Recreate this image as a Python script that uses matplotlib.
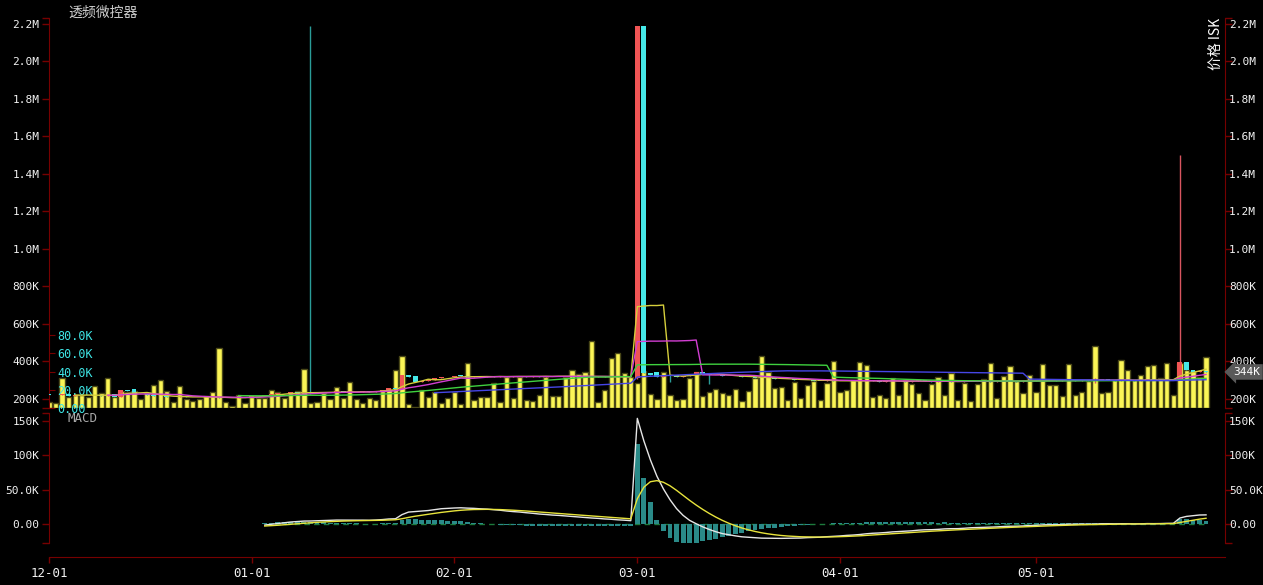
import numpy as np
import pandas as pd
import matplotlib
matplotlib.use("Agg")
import matplotlib.pyplot as plt
from matplotlib.ticker import FuncFormatter, FixedLocator

# ---------------- data (prices / volumes in thousands ISK) ----------------
start_date = "2024-12-01"
title_text = "透频微控器"
axis_label = "价格 ISK"

closes = [
    222, 220, 224, 218, 221, 219, 223, 220, 217, 222,
    212, 248, 244, 233, 226, 222, 218, 214, 212, 210,
    214, 211, 209, 212, 210, 208, 206, 207, 205, 208, 210,
    214, 218, 222, 226, 230, 232, 235, 233, 236, 231,
    235, 238, 236, 240, 237, 239, 236, 240, 238,
    245, 250, 256, 252,
    326, 315, 290, 295, 300,
    312, 318, 315, 320, 322, 316, 320, 318, 322, 319,
    321, 317, 320, 323, 319, 321, 318, 322, 320, 324,
    321, 319, 323, 320, 318, 321, 317, 320, 316, 318, 315,
    2190, 338, 330, 317, 328, 322, 318, 325, 332, 343, 335, 330, 326, 322, 325,
    320, 316, 318, 314, 310, 312, 308, 305, 306, 302, 300, 303, 298, 296, 300, 297,
    295, 298, 294, 296, 300, 297, 293, 295, 298, 294, 292, 296, 299, 295, 291,
    294, 297, 293, 290, 295, 298, 294, 296, 292, 295, 298, 296, 293, 297, 300,
    298, 302, 299, 296, 300, 303, 298, 301, 297, 300, 304, 301, 298, 302, 300,
    297, 301, 304, 300, 302, 305, 303,
    399, 354, 345, 350, 344,
]

opens = [
    224, 222, 220, 224, 218, 221, 219, 223, 220, 217,
    226, 210, 248, 253, 228, 226, 222, 218, 214, 212,
    210, 214, 211, 209, 212, 210, 208, 206, 207, 205, 208,
    210, 214, 218, 222, 226, 230, 232, 235, 233, 236,
    231, 235, 238, 236, 240, 237, 239, 236, 240,
    238, 245, 250, 256,
    252, 326, 322, 290, 295,
    300, 312, 318, 315, 330, 322, 316, 320, 318, 322,
    319, 321, 317, 320, 323, 319, 321, 318, 322, 320,
    324, 321, 319, 323, 320, 318, 321, 317, 320, 316, 318,
    312, 2190, 338, 344, 317, 328, 330, 318, 325, 332, 343, 340, 330, 326, 322,
    325, 320, 316, 318, 314, 310, 312, 308, 305, 306, 302, 300, 303, 298, 296, 300,
    297, 295, 298, 294, 296, 300, 297, 293, 295, 298, 294, 292, 296, 299, 295,
    291, 294, 297, 293, 290, 295, 298, 294, 296, 292, 295, 298, 296, 293, 297,
    300, 298, 302, 299, 296, 300, 303, 298, 301, 297, 300, 304, 301, 298, 302,
    300, 297, 301, 304, 300, 302, 305,
    305, 399, 354, 345, 350,
]

# notable wicks: (day index, high, low)
wicks = [
    (40, 2190, 229), (56, 324, 288), (90, 2190, 305), (95, 330, 290),
    (101, 340, 280), (160, 312, 285), (173, 1500, 300),
]

volumes_k = [
    7, 5.5, 33, 12, 14, 14, 12, 24, 16, 33,
    12, 19, 18, 19, 10, 16, 25, 31, 19, 7,
    24, 10, 8, 10, 13, 18, 66, 7, 2, 14,
    5, 12, 11, 11, 20, 18, 11, 17, 19, 43,
    6, 7, 16, 10, 23, 11, 29, 10, 5, 11,
    9, 19, 21, 42, 57, 4, 1, 20, 12, 18,
    5, 10.6, 18, 4.4, 49, 8.4, 11.7, 12, 27, 6.2,
    34, 11, 34, 9, 7.3, 14, 34, 13.5, 12.8, 34,
    42, 37, 40, 74, 7, 19.4, 54.5, 61, 39, 34,
    28, 41, 15, 10, 40, 14.6, 9, 10, 33, 39.5,
    12.8, 18, 21, 16.5, 14.6, 20.5, 7.3, 19, 33, 57,
    40, 22, 23, 9, 29, 11, 25, 30, 8.4, 28,
    52, 17.6, 19.4, 31, 51, 47, 12, 14, 10.6, 33,
    14.6, 31, 26.7, 16, 9, 26.7, 34, 14.6, 38, 8.4,
    27, 8, 26, 32, 50, 11, 35, 46.5, 30, 16.5,
    36, 18, 48.7, 25.6, 25, 13, 48.7, 14, 18, 30,
    68, 16, 17.6, 31, 53, 42, 31, 36.6, 46, 47,
    33, 49, 14, 50, 42, 41, 34, 55.6,
]

ma_windows = [5, 10, 30, 60]
ma_colors = ["#d6cf3c", "#d23ed2", "#3fd23f", "#4646e6"]

price_ticks = list(range(200_000, 2_200_001, 200_000))
volume_ticks = [0, 20_000, 40_000, 60_000, 80_000]
macd_ticks = [0, 50_000, 100_000, 150_000]

# ---------------- styling ----------------
SPINE = "#760000"
LABEL = "#f2f2f2"
UP_BODY, DOWN_BODY = "#f05555", "#45e8e8"
UP_WICK, DOWN_WICK = "#d85560", "#2a9c98"
TICK_FS = 8
TICK_LEN = 5
plt.rcParams["font.family"] = ["DejaVu Sans Mono", "DejaVu Sans"]

n = len(closes)
x = np.arange(n)
close = pd.Series(np.array(closes, float) * 1000)
open_ = np.array(opens, float) * 1000
high = np.maximum(open_, close.values)
low = np.minimum(open_, close.values)
for d, h, l in wicks:
    high[d] = h * 1000
    low[d] = l * 1000
vol = np.array(volumes_k, float) * 1000
dates = pd.date_range(start_date, periods=n, freq="D")


def fmt(v, pos=None):
    a = abs(v)
    if a >= 1e6:
        return f"{v/1e6:.1f}M"
    if a >= 1e5:
        return f"{v/1e3:.0f}K"
    if a >= 1e3:
        return f"{v/1e3:.1f}K"
    return f"{abs(v):.2f}"


W, H = 1263, 585
fig = plt.figure(figsize=(W / 100, H / 100), dpi=100, facecolor="black")


def rect(l, t, r, b):
    return [l / W, 1 - b / H, (r - l) / W, (b - t) / H]


ax_vol = fig.add_axes(rect(49, 18, 1225, 408))
ax = fig.add_axes(rect(49, 18, 1225, 408))
ax_m = fig.add_axes(rect(49, 413, 1225, 543))
ax_vol.set_zorder(1)
ax.set_zorder(2)
ax_m.set_zorder(2)
ax_vol.set_facecolor("black")
ax.patch.set_visible(False)
ax_m.set_facecolor("black")

xlim = (0, 179.9)
for a in (ax_vol, ax, ax_m):
    a.set_xlim(*xlim)
    for s in a.spines.values():
        s.set_visible(False)

# ---------------- volume ----------------
ax_vol.bar(x, vol, width=0.8, color="#fbf556", edgecolor="#4a4818", linewidth=1.0)
ax_vol.set_ylim(0, 429e3)
ax_vol.set_yticks(volume_ticks)
ax_vol.yaxis.set_major_formatter(FuncFormatter(fmt))
ax_vol.tick_params(axis="y", direction="in", length=4, color=SPINE, labelcolor="#3ee6e6",
                   labelsize=8.5, pad=-6)
for t in ax_vol.get_yticklabels():
    t.set_horizontalalignment("left")
ax_vol.set_xticks([])

# ---------------- candles + MAs ----------------
up = close.values >= open_
wick_cols = np.where(up, UP_WICK, DOWN_WICK)
ax.vlines(x, low, high, colors=wick_cols, linewidth=1, zorder=2)
body_bottom = np.minimum(open_, close.values)
body_h = np.maximum(np.abs(close.values - open_), 3000)
ax.bar(x, body_h, bottom=body_bottom, width=0.75,
       color=np.where(up, UP_BODY, DOWN_BODY), linewidth=0, zorder=3)
for w, c in zip(ma_windows, ma_colors):
    ax.plot(x, close.rolling(w).mean(), color=c, lw=1, zorder=4)


def style_price_axis(a, ylim, ticks):
    """left labels on `a`, right labels on a twin (own padding so they fit)."""
    a.set_ylim(*ylim)
    a.set_yticks(ticks)
    a.set_yticks(list(ylim), minor=True)
    a.yaxis.set_major_formatter(FuncFormatter(fmt))
    a.spines["left"].set_visible(True)
    a.spines["left"].set_color(SPINE)
    a.tick_params(axis="y", which="both", left=True, right=False, labelleft=True,
                  labelright=False, color=SPINE, labelcolor=LABEL, length=TICK_LEN, width=1,
                  pad=2, labelsize=TICK_FS)
    r = a.twinx()
    r.patch.set_visible(False)
    for s in r.spines.values():
        s.set_visible(False)
    r.spines["right"].set_visible(True)
    r.spines["right"].set_color(SPINE)
    r.set_ylim(*ylim)
    r.set_yticks(ticks)
    r.set_yticks(list(ylim), minor=True)
    r.yaxis.set_major_formatter(FuncFormatter(fmt))
    r.tick_params(axis="y", which="both", color=SPINE, labelcolor=LABEL, length=TICK_LEN,
                  width=1, pad=-2, labelsize=TICK_FS)
    return r


ax.set_xticks([])
ax_r = style_price_axis(ax, (152e3, 2230e3), price_ticks)

# last price marker
last = close.iloc[-1]
ax_r.annotate(fmt(last), xy=(1, last), xycoords=("axes fraction", "data"),
              xytext=(8, 0), textcoords="offset pixels", ha="left", va="center",
              color="white", fontsize=TICK_FS, annotation_clip=False, zorder=10,
              bbox=dict(boxstyle="larrow,pad=0.25", fc="#595959", ec="none"))

# ---------------- MACD ----------------
ema12 = close.ewm(span=12, adjust=False).mean()
ema26 = close.ewm(span=26, adjust=False).mean()
dif = ema12 - ema26
dea = dif.ewm(span=9, adjust=False).mean()
hist = dif - dea
start = 33
xm = x[start:]
ax_m.hlines(0, start, n - 1, colors="#1d7a3c", linestyles=(0, (4, 3)), lw=1, zorder=1)
ax_m.bar(xm, hist.values[start:], width=0.75, color="#2a8a88", linewidth=0, zorder=2)
ax_m.plot(xm, dif.values[start:], color="#e6e6e6", lw=1, zorder=3)
ax_m.plot(xm, dea.values[start:], color="#e8e43c", lw=1, zorder=3)
ax_m.spines["bottom"].set_visible(True)
ax_m.spines["bottom"].set_color(SPINE)
ax_m.spines["bottom"].set_position(("outward", 10))
month_idx = [i for i, d in enumerate(dates) if d.day == 1]
ax_m.xaxis.set_major_locator(FixedLocator(month_idx))
ax_m.set_xticklabels([dates[i].strftime("%m-%d") for i in month_idx])
ax_m.tick_params(axis="x", color=SPINE, labelcolor=LABEL, length=4, width=1, labelsize=9, pad=3)
ax_m_r = style_price_axis(ax_m, (-27.7e3, 161.6e3), macd_ticks)

# ---------------- texts ----------------
fig.text(68 / W, 1 - 13 / H, title_text, ha="left", va="center", color="#cfcfcf",
         fontsize=10, family=["Noto Sans CJK SC", "DejaVu Sans"])
fig.text(68 / W, 1 - 418 / H, "MACD", ha="left", va="center", color="#a8a8a8", fontsize=9)
fig.text(1223 / W, 1 - 18 / H, axis_label, rotation=90, ha="right", va="top", color="white",
         fontsize=10, family=["Noto Sans CJK SC", "DejaVu Sans"])

fig.savefig("out.png", dpi=100, facecolor="black")
